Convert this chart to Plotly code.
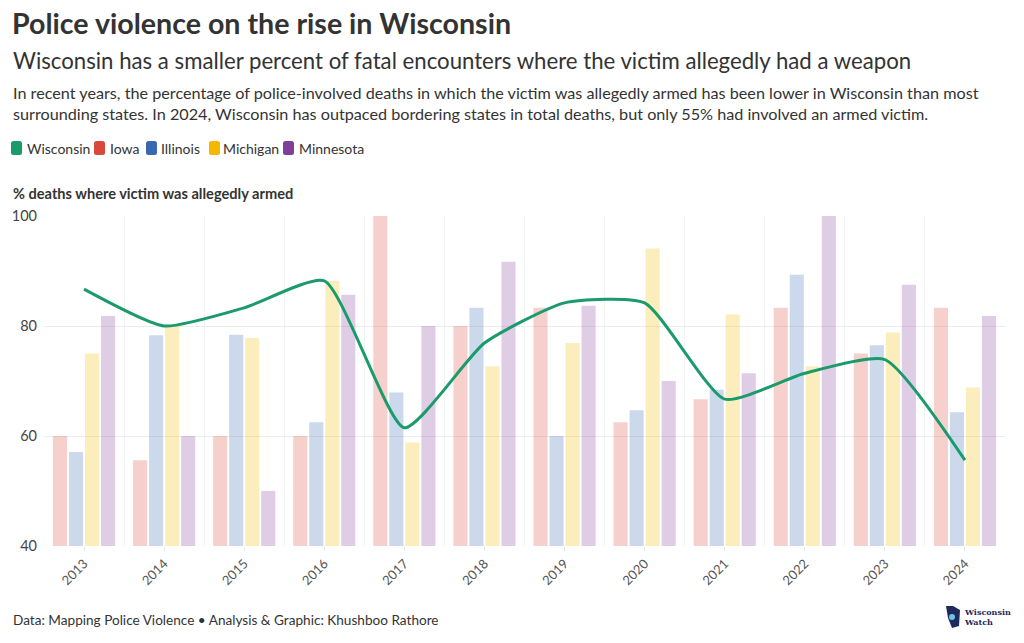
import plotly.graph_objects as go

years = [2013, 2014, 2015, 2016, 2017, 2018, 2019, 2020, 2021, 2022, 2023, 2024]
wisconsin = [86.7, 80.0, 83.3, 88.2, 61.5, 76.9, 84.2, 84.2, 66.7, 71.4, 73.9, 55.6]
iowa = [60.0, 55.6, 60.0, 60.0, 100.0, 80.0, 83.3, 62.5, 66.7, 83.3, 75.0, 83.3]
illinois = [57.1, 78.3, 78.4, 62.5, 67.9, 83.3, 60.0, 64.7, 68.4, 89.3, 76.5, 64.3]
michigan = [75.0, 80.0, 77.8, 88.2, 58.8, 72.7, 76.9, 94.1, 82.1, 72.7, 78.8, 68.8]
minnesota = [81.8, 60.0, 50.0, 85.7, 80.0, 91.7, 83.7, 70.0, 71.4, 100.0, 87.5, 81.8]

states = ["Wisconsin", "Iowa", "Illinois", "Michigan", "Minnesota"]
colors = ["#1b9a6c", "#d9483b", "#3a67b1", "#f5b800", "#7f3f98"]
bar_fill = ["rgba(217,72,59,0.26)", "rgba(58,103,177,0.26)",
            "rgba(245,184,0,0.26)", "rgba(127,63,152,0.26)"]

FONT = "Lato"
W, H = 1024, 643
ML, MR, MT, MB = 44, 19, 216, 97
PW, PH = W - ML - MR, H - MT - MB


def px(x):
    return (x - ML) / PW


def py(y):
    return (H - MB - y) / PH


fig = go.Figure()
for name, vals, fc in zip(states[1:], [iowa, illinois, michigan, minnesota], bar_fill):
    fig.add_trace(go.Bar(x=years, y=vals, name=name, marker=dict(color=fc, line=dict(width=0)),
                         showlegend=False))

fig.add_trace(go.Scatter(x=years, y=wisconsin, name="Wisconsin", mode="lines",
                         line=dict(color=colors[0], width=3, shape="spline", smoothing=0.55),
                         showlegend=False))

ann = []
ann.append(dict(text="<b>Police violence on the rise in Wisconsin</b>", x=px(10), y=py(23),
                xanchor="left", yanchor="middle", font=dict(size=28.6, color="#333333", family=FONT)))
ann.append(dict(text="Wisconsin has a smaller percent of fatal encounters where the victim allegedly had a weapon",
                x=px(11), y=py(60), xanchor="left", yanchor="middle",
                font=dict(size=22.2, color="#333333", family=FONT)))
ann.append(dict(text="In recent years, the percentage of police-involved deaths in which the victim was allegedly armed has been lower in Wisconsin than most<br>surrounding states. In 2024, Wisconsin has outpaced bordering states in total deaths, but only 55% had involved an armed victim.",
                x=px(11), y=py(103), xanchor="left", yanchor="middle", align="left",
                font=dict(size=16.2, color="#333333", family=FONT)))
ann.append(dict(text="<b>% deaths where victim was allegedly armed</b>", x=px(11), y=py(193),
                xanchor="left", yanchor="middle", font=dict(size=14.6, color="#333333", family=FONT)))
ann.append(dict(text="Data: Mapping Police Violence • Analysis & Graphic: Khushboo Rathore", x=px(11), y=py(620),
                xanchor="left", yanchor="middle", font=dict(size=13.6, color="#333333", family=FONT)))
ann.append(dict(text="<b>Wisconsin<br>Watch</b>", x=px(962), y=py(617), xanchor="left", yanchor="middle",
                align="left", font=dict(size=8, color="#1f2a5c", family="DejaVu Serif")))

# legend (swatch + label)
leg_sq_x = [11, 94, 146, 209, 283]
leg_tx_x = [25, 108, 159, 221, 297]
shapes = []
for s, c, sx, tx in zip(states, colors, leg_sq_x, leg_tx_x):
    x0, x1, y0, y1 = sx, sx + 11, 141, 155
    r = 2.5
    path = (f"M {px(x0 + r)},{py(y0)} L {px(x1 - r)},{py(y0)} Q {px(x1)},{py(y0)} {px(x1)},{py(y0 + r)} "
            f"L {px(x1)},{py(y1 - r)} Q {px(x1)},{py(y1)} {px(x1 - r)},{py(y1)} "
            f"L {px(x0 + r)},{py(y1)} Q {px(x0)},{py(y1)} {px(x0)},{py(y1 - r)} "
            f"L {px(x0)},{py(y0 + r)} Q {px(x0)},{py(y0)} {px(x0 + r)},{py(y0)} Z")
    shapes.append(dict(type="path", xref="paper", yref="paper", path=path, fillcolor=c, line=dict(width=0)))
    ann.append(dict(text=s, x=px(tx), y=py(148), xanchor="left", yanchor="middle",
                    font=dict(size=14, color="#333333", family=FONT)))

for a in ann:
    a.update(xref="paper", yref="paper", showarrow=False)

# logo glyph
shapes.append(dict(type="path", xref="paper", yref="paper",
                   path=f"M {px(946)},{py(606)} L {px(953)},{py(606)} L {px(960)},{py(610)} L {px(959)},{py(626)} L {px(952)},{py(628)} L {px(948)},{py(618)} Z",
                   fillcolor="#1f2a5c", line=dict(width=0)))
shapes.append(dict(type="circle", xref="paper", yref="paper",
                   x0=px(949), x1=px(955), y0=py(620), y1=py(614),
                   fillcolor="#6cc3e8", line=dict(width=0)))

fig.update_layout(
    width=W, height=H,
    margin=dict(l=ML, r=MR, t=MT, b=MB),
    paper_bgcolor="white", plot_bgcolor="white",
    barmode="group", bargap=0.2, bargroupgap=0.12,
    annotations=ann, shapes=shapes,
    showlegend=False, hovermode=False,
    font=dict(family=FONT, color="#444444"),
    xaxis=dict(range=[2012.5, 2024.5], tickmode="array", tickvals=years,
               ticktext=[str(y) for y in years], tickangle=-45,
               tickfont=dict(size=13, color="#555555", family=FONT),
               showgrid=False, zeroline=False, showline=False,
               ticks="outside", ticklen=4, tickcolor="#e6e6e6",
               minor=dict(tick0=2012.5, dtick=1, showgrid=True, gridcolor="#f2f2f2", gridwidth=1)),
    yaxis=dict(range=[40, 100], tickvals=[40, 60, 80, 100], showgrid=True, gridcolor="#ececec",
               zeroline=False, showline=False, ticks="", ticklen=0, ticklabelstandoff=6,
               tickfont=dict(size=14.5, color="#444444", family=FONT)),
)

fig.write_html("out.html", config={"displayModeBar": False},
               post_script="document.body.style.margin='0';document.body.style.overflow='hidden';")
